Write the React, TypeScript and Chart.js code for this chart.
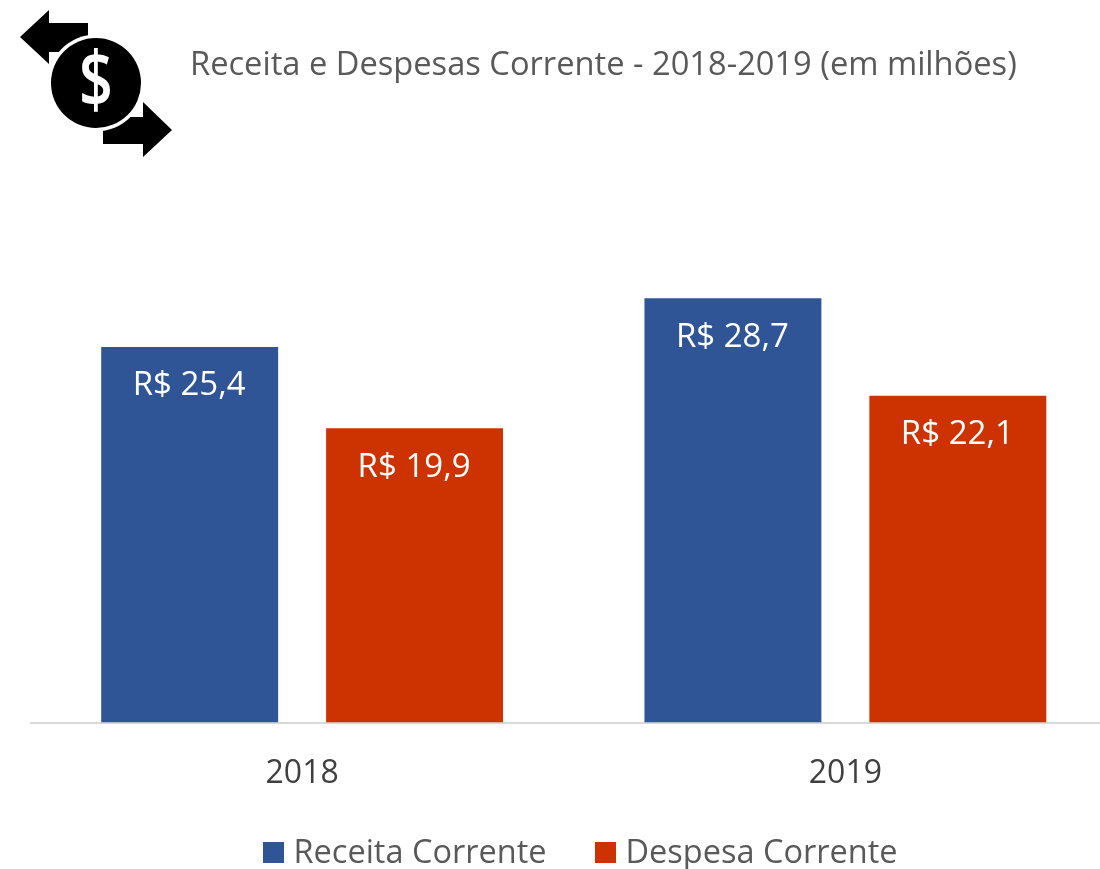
import React, { useEffect, useRef } from "react";
import { Chart, registerables } from "chart.js";

Chart.register(...registerables);

const categories = ["2018", "2019"];
const receitaLabel = "Receita Corrente";
const despesaLabel = "Despesa Corrente";
const receita = [25.4, 28.7];
const despesa = [19.9, 22.1];
const titleText = "Receita e Despesas Corrente - 2018-2019 (em milhões)";

const BLUE = "#2F5597";
const RED = "#CC3300";
const FONT = "'Open Sans', sans-serif";

const decor = {
  id: "decor",
  afterDatasetsDraw(chart: any) {
    const { ctx, data } = chart;
    ctx.save();
    // value labels
    ctx.fillStyle = "#ffffff";
    ctx.font = `33px ${FONT}`;
    ctx.textAlign = "center";
    ctx.textBaseline = "middle";
    data.datasets.forEach((ds: any, i: number) => {
      chart.getDatasetMeta(i).data.forEach((bar: any, j: number) => {
        const v = ds.data[j].toFixed(1).replace(".", ",");
        ctx.fillText(`R$ ${v}`, bar.x - 0.5, bar.y + 39);
      });
    });
    // title
    ctx.textAlign = "left";
    ctx.textBaseline = "alphabetic";
    ctx.fillStyle = "#595959";
    ctx.font = `32.65px ${FONT}`;
    ctx.fillText(titleText, 190, 75);
    // legend
    ctx.font = `32.5px ${FONT}`;
    const xs = [263, 595];
    data.datasets.forEach((ds: any, i: number) => {
      ctx.fillStyle = ds.backgroundColor;
      ctx.fillRect(xs[i], 842, 21, 21);
      ctx.fillStyle = "#595959";
      ctx.fillText(ds.label, xs[i] + 30.5, 863);
    });
    // icon
    ctx.fillStyle = "#000000";
    ctx.beginPath();
    ctx.moveTo(20, 37); ctx.lineTo(49, 10); ctx.lineTo(49, 23); ctx.lineTo(88, 23);
    ctx.lineTo(88, 52); ctx.lineTo(49, 52); ctx.lineTo(49, 64); ctx.closePath();
    ctx.fill();
    ctx.beginPath();
    ctx.moveTo(172, 130); ctx.lineTo(143, 102); ctx.lineTo(143, 117); ctx.lineTo(103, 117);
    ctx.lineTo(103, 144); ctx.lineTo(143, 144); ctx.lineTo(143, 157); ctx.closePath();
    ctx.fill();
    ctx.fillStyle = "#ffffff";
    ctx.beginPath(); ctx.arc(96, 83, 48.5, 0, Math.PI * 2); ctx.fill();
    ctx.fillStyle = "#000000";
    ctx.beginPath(); ctx.arc(96, 83, 45, 0, Math.PI * 2); ctx.fill();
    ctx.fillStyle = "#ffffff";
    ctx.font = `600 78px ${FONT}`;
    ctx.textAlign = "center";
    ctx.textBaseline = "middle";
    ctx.translate(96, 85);
    ctx.scale(0.76, 1);
    ctx.fillText("$", 0, 0);
    ctx.restore();
  },
};

export default function App() {
  const ref = useRef<HTMLCanvasElement>(null);
  useEffect(() => {
    const chart = new Chart(ref.current!, {
      type: "bar",
      data: {
        labels: categories,
        datasets: [
          { label: receitaLabel, data: receita, backgroundColor: BLUE, barPercentage: 0.7867, categoryPercentage: 0.828 },
          { label: despesaLabel, data: despesa, backgroundColor: RED, barPercentage: 0.7867, categoryPercentage: 0.828 },
        ],
      },
      options: {
        responsive: false,
        animation: false,
        layout: { padding: { top: 279, left: 30.5, right: 13, bottom: 52 } },
        plugins: { legend: { display: false }, title: { display: false }, tooltip: { enabled: false } },
        scales: {
          y: { display: false, min: 0, max: 30 },
          x: {
            grid: { display: false },
            border: { color: "#D9D9D9", width: 2 },
            ticks: { color: "#404040", font: { size: 32, family: FONT }, padding: 24 },
          },
        },
      },
      plugins: [decor],
    });
    return () => chart.destroy();
  }, []);
  return (
    <div style={{ position: "fixed", left: 0, top: 0, width: 1100, height: 869, overflow: "hidden", background: "#fff" }}>
      <canvas ref={ref} width={1130} height={869} style={{ display: "block" }} />
    </div>
  );
}
